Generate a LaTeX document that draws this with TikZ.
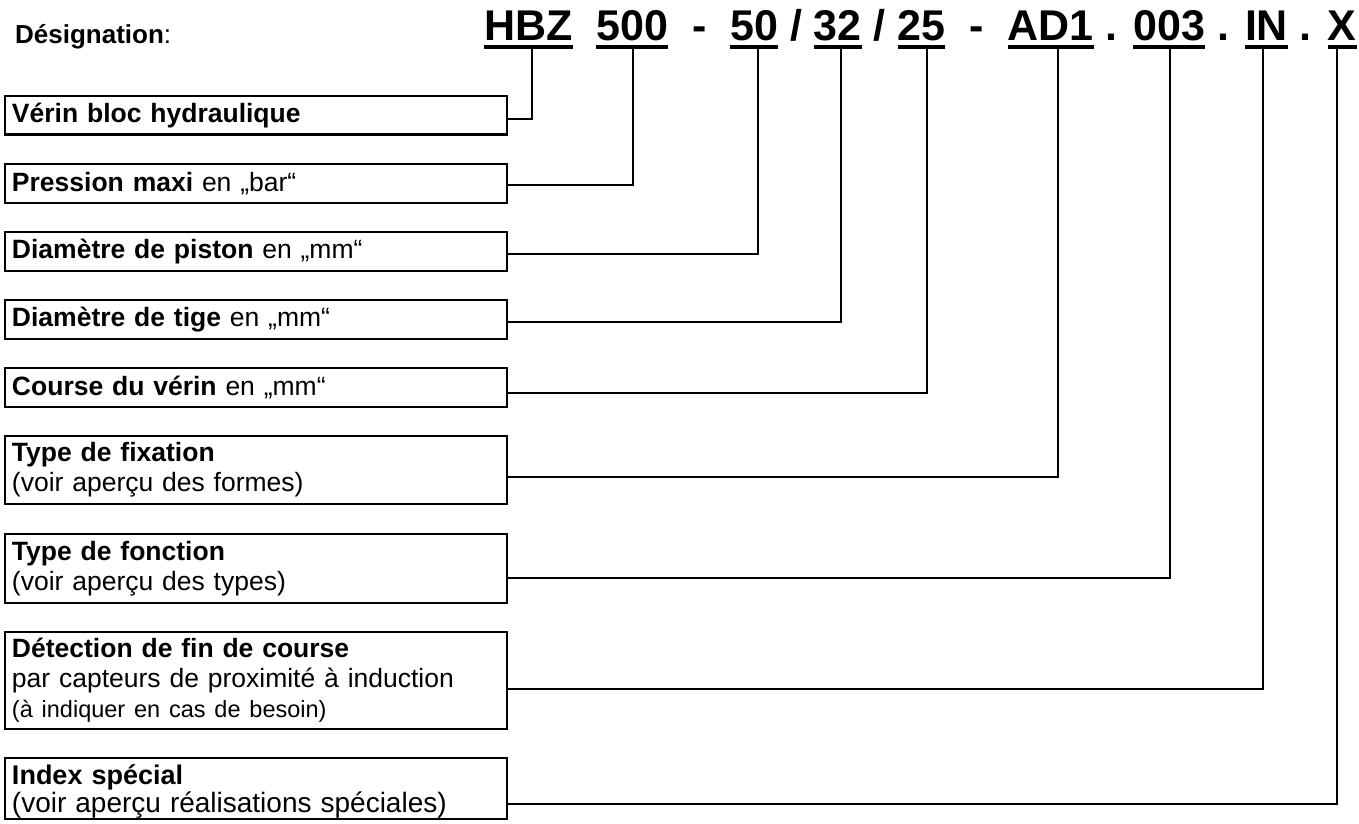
\documentclass[tikz,border=0pt]{standalone}
\usepackage{fontspec}
\setmainfont{Liberation Sans}
\newcommand\culine[1]{\setbox0\hbox{#1}\rlap{\rule[-8.5pt]{\wd0}{4pt}}\box0\relax}
\begin{document}
\begin{tikzpicture}[x=1pt,y=-1pt,
  infobox/.style={draw, line width=2.3pt, inner xsep=7pt, inner ysep=0pt, outer sep=0pt,
    text width=488pt, align=left, anchor=north west,
    font=\fontsize{26.5}{30}\selectfont},
  conn/.style={line width=1.8pt}]
\useasboundingbox (0,0) rectangle (1359,823);
\node[anchor=base west, inner sep=0pt, font=\fontsize{26}{30}\selectfont] (desig) at (15,43) {\textbf{Désignation}:};
\node[anchor=base west, inner sep=0pt, font=\fontsize{43}{50}\selectfont\bfseries] (code) at (484,40)
  {\culine{HBZ}\ \ \culine{500}\ \ -\ \ \culine{50} / \culine{32} / \culine{25}\ \ -\ \ \culine{AD1} . \culine{003} . \culine{IN} . \culine{X}};

\node[infobox, minimum height=38.5pt] (b1) at (5,96) {\textbf{Vérin bloc hydraulique}};
\node[infobox, minimum height=39pt] (b2) at (5,164) {\textbf{Pression maxi} en „bar“};
\node[infobox, minimum height=39pt] (b3) at (5,232) {\textbf{Diamètre de piston} en „mm“};
\node[infobox, minimum height=39pt] (b4) at (5,300) {\textbf{Diamètre de tige} en „mm“};
\node[infobox, minimum height=39pt] (b5) at (5,368) {\textbf{Course du vérin} en „mm“};
\node[infobox, minimum height=68pt] (b6) at (5,436) {\textbf{Type de fixation}\\(voir aperçu des formes)};
\node[infobox, minimum height=69pt] (b7) at (5,534) {\textbf{Type de fonction}\\(voir aperçu des types)};
\node[infobox, minimum height=97pt] (b8) at (5,632) {\textbf{Détection de fin de course}\\par capteurs de proximité à induction\\{\fontsize{23.5}{30}\selectfont (à indiquer en cas de besoin)}};
\node[infobox, minimum height=61pt, font=\fontsize{27}{28}\selectfont] (b9) at (5,758) {\rule{0pt}{25pt}\textbf{Index spécial}\\{\fontsize{28}{28}\selectfont (voir aperçu réalisations spéciales)}};

\coordinate (u1) at (532,46);
\coordinate (u2) at (633,46);
\coordinate (u3) at (758,46);
\coordinate (u4) at (841,46);
\coordinate (u5) at (927,46);
\coordinate (u6) at (1058,46);
\coordinate (u7) at (1170,46);
\coordinate (u8) at (1263,46);
\coordinate (u9) at (1337,46);

\draw[conn] (u1) |- ([yshift=-4pt]b1.east);
\draw[conn] (u2) |- ([yshift=-1.5pt]b2.east);
\draw[conn] (u3) |- ([yshift=-2.5pt]b3.east);
\draw[conn] (u4) |- ([yshift=-2.5pt]b4.east);
\draw[conn] (u5) |- ([yshift=-5.5pt]b5.east);
\draw[conn] (u6) |- ([yshift=-7pt]b6.east);
\draw[conn] (u7) |- ([yshift=-9.5pt]b7.east);
\draw[conn] (u8) |- ([yshift=-8.5pt]b8.east);
\draw[conn] (u9) |- ([yshift=-15.5pt]b9.east);
\end{tikzpicture}
\end{document}
